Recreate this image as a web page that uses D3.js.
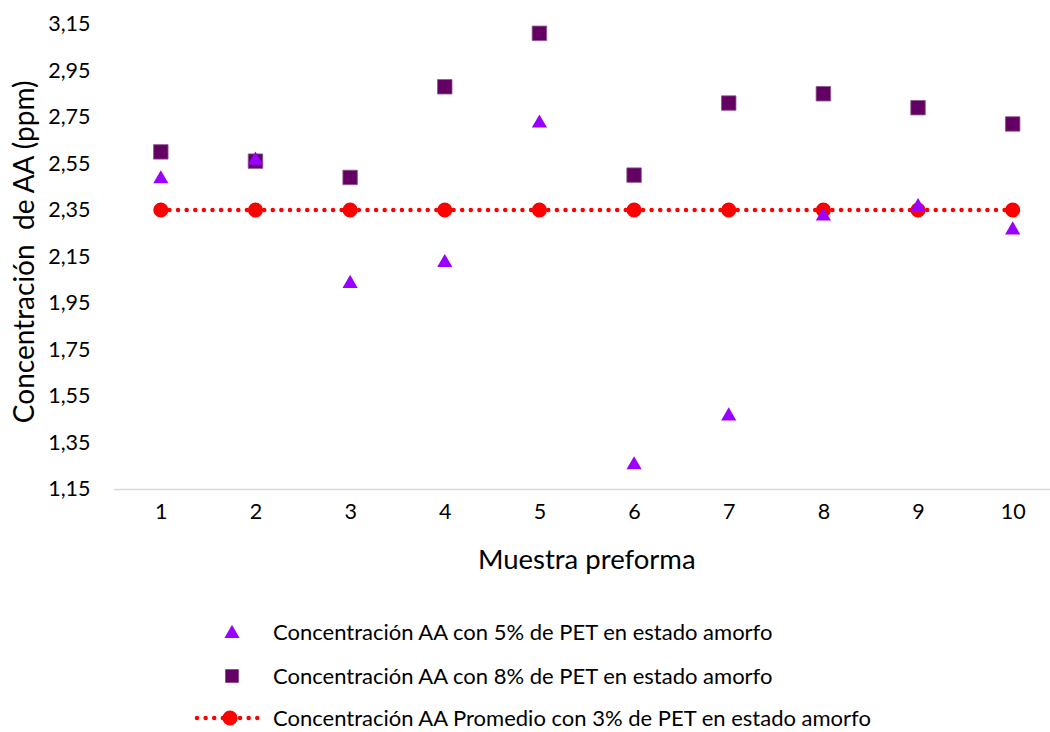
<!DOCTYPE html>
<html>
<head>
<meta charset="utf-8">
<script src="https://cdn.jsdelivr.net/npm/d3@7"></script>
<style>
  body { margin: 0; background: #fff; }
  text { font-family: Lato, "Open Sans", sans-serif; fill: #000; }
</style>
</head>
<body>
<div class="draw-section"></div>
<script>
// data
const muestras = [1, 2, 3, 4, 5, 6, 7, 8, 9, 10];
const yTicks = [1.15, 1.35, 1.55, 1.75, 1.95, 2.15, 2.35, 2.55, 2.75, 2.95, 3.15];
const conc5 = [2.49, 2.57, 2.04, 2.13, 2.73, 1.26, 1.47, 2.33, 2.37, 2.27];
const conc8 = [2.60, 2.56, 2.49, 2.88, 3.11, 2.50, 2.81, 2.85, 2.79, 2.72];
const promedio3 = [2.35, 2.35, 2.35, 2.35, 2.35, 2.35, 2.35, 2.35, 2.35, 2.35];
const seriesNames = [
  'Concentración AA con 5% de PET en estado amorfo',
  'Concentración AA con 8% de PET en estado amorfo',
  'Concentración AA Promedio con 3% de PET en estado amorfo'
];

const width = 1050;
const height = 732;
const margin = { top: 24, right: -10, bottom: 243, left: 113.5 };

const colors = { tri: '#9900ff', sq: '#640064', avg: '#ff0000' };

let svg = d3
  .select('.draw-section')
  .append('svg')
  .attr('width', width)
  .attr('height', height);

let x = d3
  .scalePoint()
  .domain(muestras)
  .range([margin.left, width - margin.right])
  .padding(0.5);

let y = d3
  .scaleLinear()
  .domain([1.15, 3.15])
  .range([height - margin.bottom, margin.top]);

const fmt = d => d.toFixed(2).replace('.', ',');

// y axis (labels only)
let yAxis = svg
  .append('g')
  .attr('transform', `translate(${margin.left - 23},0)`)
  .call(d3.axisLeft(y).tickValues(yTicks).tickFormat(fmt).tickSize(0).tickPadding(0));
yAxis.select('.domain').remove();
yAxis.selectAll('text').style('font-size', '21.5px').style('font-family', null);

// x axis
let xAxis = svg
  .append('g')
  .attr('transform', `translate(0,${y(1.15)})`)
  .call(d3.axisBottom(x).tickSize(0).tickPadding(15));
xAxis.select('.domain').attr('stroke', '#d9d9d9').attr('stroke-width', 1.5);
xAxis.selectAll('text').style('font-size', '21.5px').style('font-family', null);

// axis titles
svg
  .append('text')
  .attr('x', (x(1) + x(10)) / 2)
  .attr('y', 569)
  .attr('text-anchor', 'middle')
  .style('font-size', '27.5px')
  .text('Muestra preforma');

svg
  .append('text')
  .attr('transform', `translate(34,${y(2.17)}) rotate(-90)`)
  .attr('text-anchor', 'middle')
  .attr('xml:space', 'preserve')
  .style('white-space', 'pre')
  .style('font-size', '28px')
  .text('Concentración  de AA (ppm)');

const triangle = d3.symbol(d3.symbolTriangle, 100);
const square = d3.symbol(d3.symbolSquare, 210);
const circle = d3.symbol(d3.symbolCircle, 180);

// average line (dotted) with circles
const line = d3
  .line()
  .x((d, i) => x(muestras[i]))
  .y(d => y(d));

svg
  .append('path')
  .attr('d', line(promedio3))
  .attr('fill', 'none')
  .attr('stroke', colors.avg)
  .attr('stroke-width', 4.5)
  .attr('stroke-linecap', 'round')
  .attr('stroke-dasharray', '0.01,8.6');

svg
  .append('g')
  .selectAll('path')
  .data(promedio3)
  .join('path')
  .attr('d', circle)
  .attr('transform', (d, i) => `translate(${x(muestras[i])},${y(d)})`)
  .attr('fill', colors.avg);

// 8% squares
svg
  .append('g')
  .selectAll('path')
  .data(conc8)
  .join('path')
  .attr('d', square)
  .attr('transform', (d, i) => `translate(${x(muestras[i])},${y(d)})`)
  .attr('fill', colors.sq)
  .attr('stroke', '#8a5a8a')
  .attr('stroke-width', 0.8);

// 5% triangles
svg
  .append('g')
  .selectAll('path')
  .data(conc5)
  .join('path')
  .attr('d', triangle)
  .attr('transform', (d, i) => `translate(${x(muestras[i])},${y(d) + 1.5})`)
  .attr('fill', colors.tri);

// legend
const legendRows = [632, 676, 718];
let legend = svg.append('g');

legend
  .append('path')
  .attr('d', triangle)
  .attr('transform', `translate(232,${legendRows[0] + 1.5})`)
  .attr('fill', colors.tri);

legend
  .append('path')
  .attr('d', d3.symbol(d3.symbolSquare, 180))
  .attr('transform', `translate(232,${legendRows[1]})`)
  .attr('fill', colors.sq);

legend
  .append('line')
  .attr('x1', 197)
  .attr('x2', 260)
  .attr('y1', legendRows[2])
  .attr('y2', legendRows[2])
  .attr('stroke', colors.avg)
  .attr('stroke-width', 4.5)
  .attr('stroke-linecap', 'round')
  .attr('stroke-dasharray', '0.01,8.6');

legend
  .append('path')
  .attr('d', circle)
  .attr('transform', `translate(230,${legendRows[2]})`)
  .attr('fill', colors.avg);

legend
  .selectAll('text')
  .data(seriesNames)
  .join('text')
  .attr('x', 273)
  .attr('y', (d, i) => legendRows[i])
  .attr('dy', '0.35em')
  .style('font-size', '22px')
  .text(d => d);
</script>
</body>
</html>
